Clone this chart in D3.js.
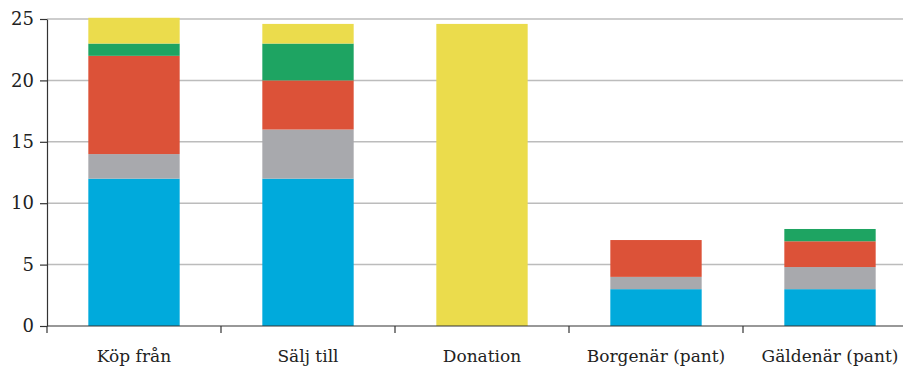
<!DOCTYPE html>
<html lang="sv">
<head>
<meta charset="utf-8">
<script src="https://d3js.org/d3.v7.min.js"></script>
<style>
  body { margin: 0; background: #fff; }
</style>
</head>
<body>
<svg id="chart" width="903" height="367"></svg>
<script>
// categories and stacked series (bottom to top)
var categories = ["Köp från", "Sälj till", "Donation", "Borgenär (pant)", "Gäldenär (pant)"];
var blueVals   = [12, 12, 0, 3, 3];
var greyVals   = [2, 4, 0, 1, 1.8];
var redVals    = [8, 4, 0, 3, 2.1];
var greenVals  = [1, 3, 0, 0, 1];
var yellowVals = [2.1, 1.6, 24.6, 0, 0];
var yTicks = [0, 5, 10, 15, 20, 25];

var seriesNames = ["blue", "grey", "red", "green", "yellow"];
var colors = ["#00aadc", "#a8a9ad", "#dc5238", "#1ea462", "#ebdc4c"];
var fontFam = "'DejaVu Serif', serif";

var rows = categories.map(function (c, i) {
  return { cat: c, blue: blueVals[i], grey: greyVals[i], red: redVals[i], green: greenVals[i], yellow: yellowVals[i] };
});

var svg = d3.select("#chart");
var plotLeft = 47, plotBottom = 326, plotTop = 19;

// step between category ticks is ~174px; last tick falls beyond the canvas
var x = d3.scaleBand().domain(categories).range([plotLeft, plotLeft + 174 * 5]).padding(0);
var y = d3.scaleLinear().domain([0, 25]).range([plotBottom, plotTop]);
var barW = x.bandwidth() * 0.525;

// gridlines
svg.append("g")
  .selectAll("line")
  .data(yTicks.slice(1))
  .enter().append("line")
  .attr("x1", plotLeft).attr("x2", 903)
  .attr("y1", function (d) { return y(d); })
  .attr("y2", function (d) { return y(d); })
  .attr("stroke", "#bcbcbc")
  .attr("stroke-width", 1.5);

// bars
var stack = d3.stack().keys(seriesNames)(rows);
svg.append("g")
  .selectAll("g")
  .data(stack)
  .enter().append("g")
  .attr("fill", function (d, i) { return colors[i]; })
  .selectAll("rect")
  .data(function (d) { return d; })
  .enter().append("rect")
  .attr("x", function (d) { return x(d.data.cat) + (x.bandwidth() - barW) / 2; })
  .attr("width", barW)
  .attr("y", function (d) { return y(d[1]); })
  .attr("height", function (d) { return y(d[0]) - y(d[1]); });

// y axis
var yAxis = svg.append("g")
  .attr("transform", "translate(" + plotLeft + ",0)")
  .call(d3.axisLeft(y).tickValues(yTicks).tickSize(7).tickPadding(6).tickSizeOuter(0));
yAxis.select(".domain").attr("stroke", "#333").attr("stroke-width", 1.2);
yAxis.selectAll(".tick line").attr("stroke", "#333").attr("stroke-width", 1.2);
yAxis.selectAll("text")
  .style("font-family", fontFam)
  .style("font-size", "18px")
  .attr("fill", "#222");

// x axis with ticks at category boundaries
var xAxis = svg.append("g").attr("transform", "translate(0," + plotBottom + ")");
xAxis.append("line")
  .attr("x1", plotLeft).attr("x2", 903)
  .attr("stroke", "#333").attr("stroke-width", 1.2);
xAxis.selectAll(".bt")
  .data(categories)
  .enter().append("line")
  .attr("class", "bt")
  .attr("x1", function (d) { return x(d); })
  .attr("x2", function (d) { return x(d); })
  .attr("y1", 0).attr("y2", 7)
  .attr("stroke", "#333").attr("stroke-width", 1.2);
xAxis.selectAll("text")
  .data(categories)
  .enter().append("text")
  .attr("x", function (d) { return x(d) + x.bandwidth() / 2; })
  .attr("y", 36)
  .attr("text-anchor", "middle")
  .style("font-family", fontFam)
  .style("font-size", "17px")
  .attr("fill", "#222")
  .text(function (d) { return d; });
</script>
</body>
</html>
